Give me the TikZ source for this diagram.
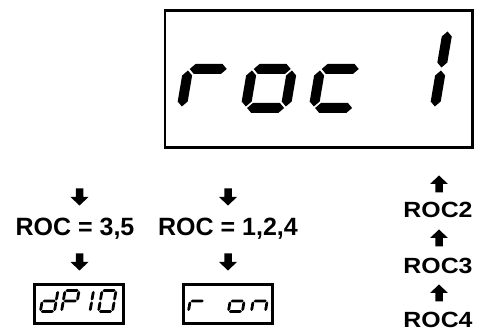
\documentclass[tikz,border=0pt]{standalone}
\usepackage{fontspec}
\setmainfont{Liberation Sans}
\newfontfamily\rocwide[FakeStretch=1.13]{Liberation Sans}

% one segment of a seven segment digit (local units, y up)
\newcommand{\hseg}[3]{\fill (#1+\dg,#3) -- ++(\dt/2,\dt/2) -- (#2-\dg-\dt/2,#3+\dt/2) -- (#2-\dg,#3) -- (#2-\dg-\dt/2,#3-\dt/2) -- (#1+\dg+\dt/2,#3-\dt/2) -- cycle;}
\newcommand{\vseg}[3]{\fill (#1,#2+\dg) -- (#1+\dt/2,#2+\dg+\dt/2) -- (#1+\dt/2,#3-\dg-\dt/2) -- (#1,#3-\dg) -- (#1-\dt/2,#3-\dg-\dt/2) -- (#1-\dt/2,#2+\dg+\dt/2) -- cycle;}
\newcommand{\lcda}{\hseg{0}{\dw}{2*\dh}}
\newcommand{\lcdb}{\vseg{\dw}{\dh}{2*\dh}}
\newcommand{\lcdc}{\vseg{\dw}{0}{\dh}}
\newcommand{\lcdd}{\hseg{0}{\dw}{0}}
\newcommand{\lcde}{\vseg{0}{0}{\dh}}
\newcommand{\lcdf}{\vseg{0}{\dh}{2*\dh}}
\newcommand{\lcdg}{\hseg{0}{\dw}{\dh}}
\newcommand{\lcdchar}[3]{%
  \begin{scope}[shift={(#1,#2)}, x={(1pt,0pt)}, y={(\dsl*1pt,1pt)}]
    \foreach \sg in {#3} {\csname lcd\sg\endcsname}
  \end{scope}}

\tikzset{
  roctext/.style={font=\bfseries\fontsize{25}{30}\selectfont, inner sep=0pt, anchor=base},
  rocside/.style={font=\rocwide\bfseries\fontsize{22}{26}\selectfont, inner sep=0pt, anchor=base},
  lcdbox/.style={draw, line width=2.7pt, inner sep=0pt},
  downarr/.pic={\fill (-3.75,-8.5) -- (3.75,-8.5) -- (3.75,0) -- (9,0) -- (0,8.5) -- (-9,0) -- (-3.75,0) -- cycle;},
  uparr/.pic={\fill (-3.75,8.5) -- (3.75,8.5) -- (3.75,0) -- (9,0) -- (0,-8.5) -- (-9,0) -- (-3.75,0) -- cycle;}
}

\begin{document}
\begin{tikzpicture}[x=1pt,y=-1pt]
\useasboundingbox (0,0) rectangle (483,334);

% main display
\node[lcdbox, minimum width=307.5pt, minimum height=137pt] (maindisp) at (318.75,79) {};
\begin{scope}
  \def\dw{40}\def\dh{39}\def\dt{10}\def\dg{1.5}\def\dsl{0.17}
  \lcdchar{181.6}{108}{e,g}
  \lcdchar{245.6}{108}{c,d,e,g}
  \lcdchar{313.6}{108}{d,e,g}
  \lcdchar{394.6}{108}{b,c}
\end{scope}

% left branch
\pic at (79.5,197) {downarr};
\node[roctext] (rocA) at (75,236) {ROC = 3,5};
\pic at (79.5,262) {downarr};
\node[lcdbox, minimum width=89pt, minimum height=39pt] (dispA) at (79,304) {};

% middle branch
\pic at (228,197) {downarr};
\node[roctext] (rocB) at (228,236) {ROC = 1,2,4};
\pic at (228,262) {downarr};
\node[lcdbox, minimum width=89pt, minimum height=39pt] (dispB) at (228,304) {};

\begin{scope}
  \def\dw{14}\def\dh{10.5}\def\dt{2.8}\def\dg{0.5}\def\dsl{0.17}
  \lcdchar{40.4}{311.5}{b,c,d,e,g}
  \lcdchar{61.5}{311.5}{a,b,e,f,g}
  \lcdchar{76}{311.5}{b,c}
  \lcdchar{98.5}{311.5}{a,b,c,d,e,f}
  \lcdchar{188.4}{311.5}{e,g}
  \lcdchar{228.4}{311.5}{c,d,e,g}
  \lcdchar{251.4}{311.5}{c,e,g}
\end{scope}

% right column
\pic at (439,184) {uparr};
\node[rocside] (roc2) at (438,218) {ROC2};
\pic at (439,238) {uparr};
\node[rocside] (roc3) at (438,274) {ROC3};
\pic at (439,293) {uparr};
\node[rocside] (roc4) at (438,328) {ROC4};
\end{tikzpicture}
\end{document}
